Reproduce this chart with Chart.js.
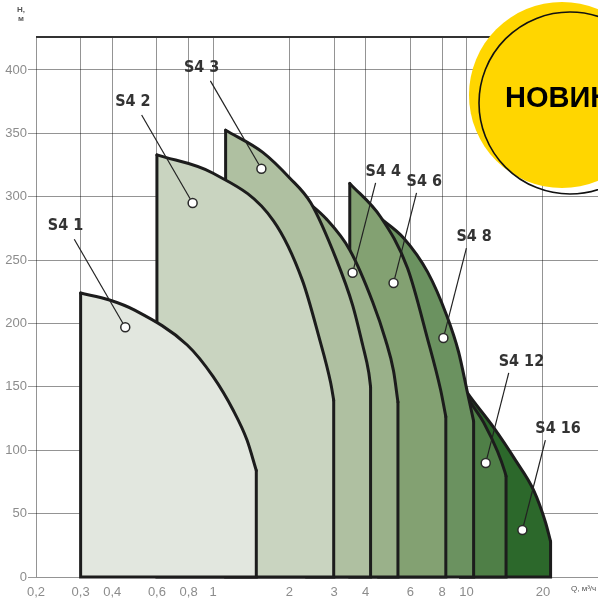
<!DOCTYPE html>
<html>
<head>
<meta charset="utf-8">
<script src="https://cdn.jsdelivr.net/npm/chart.js@4.4.1/dist/chart.umd.min.js"></script>
<style>
    html, body { margin: 0; padding: 0; background: #ffffff; }
    #chart_canvas { display: block; }
</style>
</head>
<body>
<canvas id="chart_canvas" width="598" height="600"></canvas>
<script>
// Pump families, front (drawn last) to back
const pump_names = ['S4 1', 'S4 2', 'S4 3', 'S4 4', 'S4 6', 'S4 8', 'S4 12', 'S4 16'];

// Flow Q (m3/h) and head H (m) along the top of each pump's working range
const q_s4_1 = [0.3, 0.39, 0.49, 0.79, 1.0, 1.2, 1.36, 1.48];
const h_s4_1 = [224, 218.5, 210.5, 183, 158, 131.5, 108, 84];
const q_s4_2 = [0.6, 1.0, 1.73, 2.25, 2.61, 2.91, 2.99];
const h_s4_2 = [333, 318.5, 281, 234, 190, 153, 139.5];
const q_s4_3 = [1.12, 1.57, 2.0, 2.43, 3.07, 3.55, 3.89, 4.11, 4.18];
const h_s4_3 = [352.5, 335, 315, 295, 250, 214.5, 183, 161.5, 150];
const q_s4_4 = [2.34, 2.78, 3.46, 4.26, 4.79, 5.15, 5.36];
const h_s4_4 = [296.5, 283, 258, 217, 187, 162.5, 138];
const q_s4_6 = [3.46, 4.58, 5.85, 7.0, 7.9, 8.28];
const h_s4_6 = [310.5, 284, 243.5, 188.5, 147.5, 126.5];
const q_s4_8 = [4.5, 5.64, 7.02, 8.34, 9.3, 10.09, 10.66];
const h_s4_8 = [284, 267.5, 240.5, 206.5, 177.5, 145, 123];
const q_s4_12 = [9.47, 10.09, 11.67, 13.25, 14.13, 14.31];
const h_s4_12 = [157, 142.5, 122, 99, 83.5, 79.5];
const q_s4_16 = [9.47, 10.09, 12.78, 15.61, 18.38, 20.49, 21.45];
const h_s4_16 = [153.5, 145, 118, 92, 68.5, 43, 28];

// Points marked with a white dot and a label
const marker_q = [0.45, 0.83, 1.55, 3.55, 5.15, 8.1, 11.9, 16.6];
const marker_h = [197, 295, 322, 240, 232, 188.5, 90, 37];

// Axis ticks
const x_ticks = [0.2, 0.3, 0.4, 0.6, 0.8, 1, 2, 3, 4, 6, 8, 10, 20];
const y_ticks = [0, 50, 100, 150, 200, 250, 300, 350, 400];
const x_min = 0.2, x_max = 33, y_max = 426;

const q_lists = [q_s4_1, q_s4_2, q_s4_3, q_s4_4, q_s4_6, q_s4_8, q_s4_12, q_s4_16];
const h_lists = [h_s4_1, h_s4_2, h_s4_3, h_s4_4, h_s4_6, h_s4_8, h_s4_12, h_s4_16];

const fill_colors = ['#e2e7df', '#c9d4c0', '#afc0a1', '#9ab18a', '#83a172', '#6b9260', '#4f7f47', '#2c682b'];
const outline = '#1c1c1c';
const grid_color = 'rgba(0, 0, 0, 0.42)';
const label_font = 'bold 16px "Liberation Sans Narrow", "DejaVu Sans Condensed", "Liberation Sans", sans-serif';

// Build two datasets per pump: the filled curve, and its straight side/bottom edges
let datasets = [{
    data: marker_q.map((q, i) => ({x: q, y: marker_h[i]})),
    showLine: false,
    pointRadius: 4.5,
    pointBackgroundColor: '#ffffff',
    pointBorderColor: '#2a2a2a',
    pointBorderWidth: 1.5,
    clip: false,
    order: 0
}];

pump_names.forEach((name, i) => {
    let q = q_lists[i], h = h_lists[i], n = q.length - 1;
    datasets.push({
        label: name + ' edges',
        data: [{x: q[n], y: h[n]}, {x: q[n], y: 0}, {x: q[0], y: 0}, {x: q[0], y: h[0]}],
        borderColor: outline,
        borderWidth: 3,
        borderCapStyle: 'round',
        borderJoinStyle: 'miter',
        pointRadius: 0,
        tension: 0,
        fill: false,
        clip: 3,
        order: 2 * i + 1
    });
    datasets.push({
        label: name,
        data: q.map((v, k) => ({x: v, y: h[k]})),
        borderColor: outline,
        borderWidth: 3,
        borderCapStyle: 'round',
        borderJoinStyle: 'round',
        backgroundColor: fill_colors[i],
        cubicInterpolationMode: 'monotone',
        pointRadius: 0,
        fill: 'origin',
        clip: 3,
        order: 2 * i + 2
    });
});

// Leader lines, labels, axis titles and the corner badge
const annotate = {
    id: 'annotate',
    afterDraw(chart) {
        const {ctx, scales: {x, y}} = chart;
        ctx.save();
        ctx.lineWidth = 1.2;
        ctx.strokeStyle = '#222222';
        ctx.fillStyle = '#333333';
        ctx.font = label_font;
        ctx.textBaseline = 'middle';
        pump_names.forEach((name, i) => {
            let mx = x.getPixelForValue(marker_q[i]);
            let my = y.getPixelForValue(marker_h[i]);
            let to_left = i < 3;
            let ex = mx + (to_left ? -51 : 23);
            let ey = my + (to_left ? -88 : -90);
            let len = Math.hypot(ex - mx, ey - my);
            ctx.beginPath();
            ctx.moveTo(mx + (ex - mx) / len * 5, my + (ey - my) / len * 5);
            ctx.lineTo(ex, ey);
            ctx.stroke();
            ctx.textAlign = to_left ? 'right' : 'left';
            ctx.fillText(name, to_left ? mx - 42 : mx + 13, my - 101);
        });

        // axis titles
        ctx.fillStyle = '#555555';
        ctx.textAlign = 'center';
        ctx.font = 'bold 8px "Liberation Sans", sans-serif';
        ctx.fillText('H,', 21, 10);
        ctx.fillText('м', 21, 19);
        ctx.textAlign = 'left';
        ctx.font = '8px "Liberation Sans", sans-serif';
        ctx.fillText('Q, м³/ч', 571, 589);

        // badge
        ctx.beginPath();
        ctx.arc(562, 95, 93, 0, Math.PI * 2);
        ctx.fillStyle = '#ffd600';
        ctx.fill();
        ctx.beginPath();
        ctx.arc(570, 103, 91, 0, Math.PI * 2);
        ctx.lineWidth = 1.6;
        ctx.strokeStyle = '#111111';
        ctx.stroke();
        ctx.fillStyle = '#000000';
        ctx.font = 'bold 29px "Liberation Sans Narrow", "Liberation Sans", sans-serif';
        ctx.textBaseline = 'alphabetic';
        ctx.fillText('НОВИНКА', 505, 107);
        ctx.restore();
    }
};

let context = document.getElementById('chart_canvas').getContext('2d');

let pump_chart = new Chart(context, {
    type: 'line',
    data: {datasets: datasets},
    options: {
        responsive: false,
        animation: false,
        devicePixelRatio: 1,
        layout: {
            autoPadding: false,
            padding: {top: 37, right: 0, left: 0, bottom: 0}
        },
        plugins: {
            legend: {display: false},
            tooltip: {enabled: false}
        },
        scales: {
            x: {
                type: 'logarithmic',
                min: x_min,
                max: x_max,
                z: 1,
                afterBuildTicks: axis => { axis.ticks = x_ticks.map(v => ({value: v})); },
                afterFit: axis => {
                    axis.height = 23;
                    axis.paddingLeft = 0;
                    axis.paddingRight = 0;
                },
                border: {display: false},
                grid: {color: grid_color, lineWidth: 1, drawTicks: false},
                ticks: {
                    autoSkip: false,
                    maxRotation: 0,
                    padding: 8,
                    color: '#8c8c8c',
                    font: {family: 'Liberation Sans', size: 13},
                    callback: v => String(v).replace('.', ',')
                }
            },
            y: {
                type: 'linear',
                min: 0,
                max: y_max,
                z: 1,
                afterBuildTicks: axis => {
                    axis.ticks = y_ticks.map(v => ({value: v})).concat([{value: y_max}]);
                },
                afterFit: axis => { axis.width = 36; },
                border: {display: false},
                grid: {
                    color: c => (c.tick && c.tick.value === y_max) ? '#333333' : grid_color,
                    lineWidth: c => (c.tick && c.tick.value === y_max) ? 2 : 1,
                    tickLength: 8,
                    tickColor: c => (c.tick && c.tick.value === y_max) ? 'rgba(0,0,0,0)' : '#9a9a9a'
                },
                ticks: {
                    padding: 1,
                    color: '#8c8c8c',
                    font: {family: 'Liberation Sans', size: 13},
                    callback: v => v === y_max ? '' : v
                }
            }
        }
    },
    plugins: [annotate]
});
</script>
</body>
</html>
